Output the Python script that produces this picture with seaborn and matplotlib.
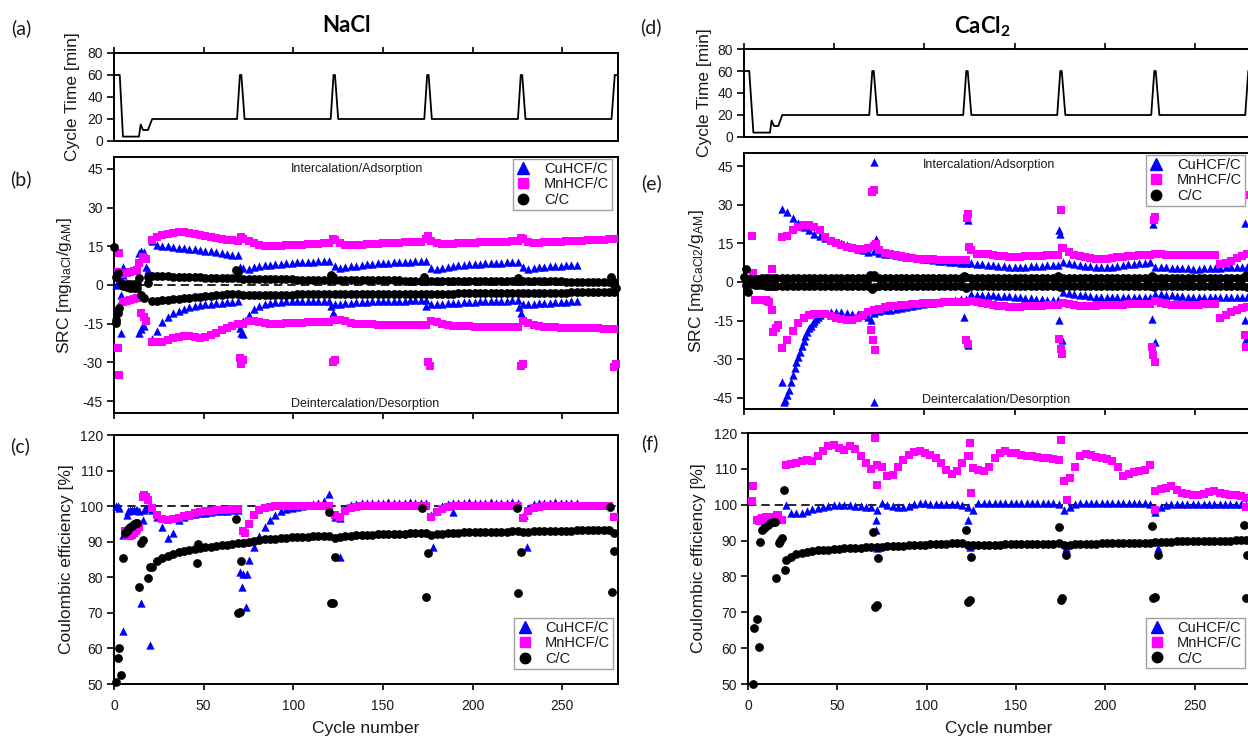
import matplotlib
matplotlib.use("Agg")
import matplotlib.pyplot as plt
import seaborn as sns
import pandas as pd
from matplotlib.lines import Line2D

# ------------------------------------------------------------------ data
xticks = [0, 50, 100, 150, 200, 250]
band_cycles = list(range(21, 280, 3))   # sampled cycles for the dense bands

# cycle time profiles
nacl_ct_c = [0, 3.2, 5, 13.9, 14.9, 16.2, 18.9, 21.3, 68.6, 70.2, 71.0, 72.8,
             120.8, 122.4, 123.2, 125.0, 173.0, 174.6, 175.4, 177.2,
             225.2, 226.8, 227.6, 229.4, 277.4, 279.2, 281]
nacl_ct_v = [60, 60, 4, 4, 15, 10, 10, 20, 20, 60, 60, 20, 20, 60, 60, 20,
             20, 60, 60, 20, 20, 60, 60, 20, 20, 60, 60]
cacl_ct_c = [0, 2.9, 5.2, 14.4, 15.3, 16.6, 19.0, 21.2, 69.4, 71.1, 71.9, 73.9,
             121.5, 123.2, 124.0, 126.0, 173.6, 175.3, 176.1, 178.1,
             225.7, 227.4, 228.2, 230.2, 277.8, 279.5, 281]
cacl_ct_v = [60, 60, 4, 4, 15, 10, 10, 20, 20, 60, 60, 20, 20, 60, 60, 20,
             20, 60, 60, 20, 20, 60, 60, 20, 20, 60, 60]

# ---- NaCl SRC (panel b)
nacl_mn_pos = [17.5, 18.5, 19.3, 19.8, 20.2, 20.5, 20.6, 20.3, 19.8, 19.4,
               19.0, 18.6, 18.2, 17.9, 17.6, 17.3, 17.0, 17.8, 17.0, 16.2,
               15.5, 15.1, 15.2, 15.2, 15.3, 15.4, 15.5, 15.6, 15.7, 15.8,
               15.9, 16.0, 16.1, 16.2, 17.5, 16.2, 15.6, 15.5, 15.6, 15.7,
               15.8, 15.9, 16.0, 16.1, 16.2, 16.3, 16.4, 16.5, 16.6, 16.7,
               16.8, 18.0, 17.2, 16.2, 15.9, 15.9, 16.0, 16.1, 16.2, 16.3,
               16.4, 16.5, 16.5, 16.6, 16.6, 16.7, 16.8, 16.9, 17.0, 17.8,
               16.6, 16.3, 16.4, 16.5, 16.6, 16.7, 16.8, 16.9, 17.0, 17.1,
               17.2, 17.3, 17.4, 17.5, 17.6, 17.8, 18.0]
nacl_mn_neg = [-22.0, -22.2, -22.0, -21.3, -20.5, -20.0, -19.6, -19.6, -20.0, -20.5,
               -20.3, -19.5, -18.5, -17.5, -16.5, -15.8, -15.3, -15.0, -13.8, -14.0,
               -14.5, -14.8, -15.0, -15.0, -15.0, -14.9, -14.8, -14.7, -14.6, -14.5,
               -14.4, -14.3, -14.2, -14.2, -13.6, -13.5, -14.0, -14.6, -15.0, -15.2,
               -15.3, -15.3, -15.4, -15.4, -15.5, -15.5, -15.6, -15.6, -15.6, -15.6,
               -15.6, -15.5, -13.8, -14.5, -15.2, -15.6, -15.8, -16.0, -16.0, -16.0,
               -16.1, -16.1, -16.1, -16.2, -16.2, -16.2, -16.2, -16.2, -16.2, -14.0,
               -14.8, -15.6, -16.0, -16.2, -16.3, -16.4, -16.5, -16.5, -16.6, -16.6,
               -16.7, -16.7, -16.8, -16.8, -16.9, -17.0, -17.0]
nacl_cu_pos = [17.0, 15.5, 15.2, 15.0, 14.8, 14.5, 14.3, 14.0, 13.8, 13.6,
               13.3, 13.0, 12.7, 12.4, 12.1, 11.8, 11.5, 6.5, 6.2, 6.8,
               7.3, 7.6, 7.9, 8.1, 8.3, 8.5, 8.7, 8.8, 8.9, 9.0,
               9.1, 9.2, 9.3, 9.4, 7.2, 6.6, 6.9, 7.2, 7.5, 7.8,
               8.0, 8.2, 8.4, 8.6, 8.7, 8.8, 8.9, 9.0, 9.1, 9.2,
               9.3, 9.4, 6.5, 6.4, 6.7, 7.0, 7.3, 7.6, 7.8, 8.0,
               8.2, 8.3, 8.4, 8.5, 8.6, 8.7, 8.8, 8.9, 9.0, 6.8,
               6.4, 6.6, 6.8, 7.0, 7.2, 7.4, 7.5, 7.6, 7.8, 7.9]
nacl_cu_neg = [-21.0, -18.0, -14.5, -12.5, -11.0, -10.0, -9.2, -8.6, -8.2, -7.8,
               -7.5, -7.2, -7.0, -6.8, -6.6, -6.5, -6.4, -14.0, -11.5, -9.5,
               -8.0, -7.2, -6.8, -6.6, -6.5, -6.4, -6.4, -6.3, -6.3, -6.3,
               -6.3, -6.2, -6.2, -6.2, -7.5, -7.2, -7.0, -6.8, -6.7, -6.6,
               -6.5, -6.4, -6.3, -6.3, -6.2, -6.2, -6.1, -6.1, -6.0, -6.0,
               -6.0, -6.0, -7.5, -7.4, -7.2, -7.0, -6.9, -6.8, -6.7, -6.6,
               -6.5, -6.4, -6.3, -6.2, -6.2, -6.1, -6.1, -6.0, -6.0, -7.5,
               -7.4, -7.2, -7.0, -6.9, -6.8, -6.7, -6.6, -6.5, -6.4, -6.3]
nacl_cc_pos = [3.4, 3.4, 3.3, 3.3, 3.2, 3.2, 3.1, 3.1, 3.0, 3.0,
               2.9, 2.9, 2.8, 2.8, 2.7, 2.7, 2.6, 2.5, 2.5, 2.4,
               2.4, 2.3, 2.3, 2.3, 2.2, 2.2, 2.2, 2.1, 2.1, 2.1,
               2.0, 2.0, 2.0, 2.0, 2.0, 2.0, 1.9, 1.9, 1.9, 1.9,
               1.9, 1.8, 1.8, 1.8, 1.8, 1.8, 1.8, 1.7, 1.7, 1.7,
               1.7, 1.7, 1.7, 1.7, 1.6, 1.6, 1.6, 1.6, 1.6, 1.6,
               1.6, 1.5, 1.5, 1.5, 1.5, 1.5, 1.5, 1.5, 1.5, 1.4,
               1.4, 1.4, 1.4, 1.4, 1.4, 1.4, 1.4, 1.3, 1.3, 1.3,
               1.3, 1.3, 1.3, 1.3, 1.3, 1.3, 1.3]
nacl_cc_neg = [-6.3, -6.1, -5.9, -5.7, -5.5, -5.3, -5.1, -4.9, -4.7, -4.5,
               -4.3, -4.1, -3.9, -3.7, -3.5, -3.4, -3.3, -3.8, -4.0, -4.0,
               -4.0, -3.9, -3.9, -3.8, -3.8, -3.7, -3.7, -3.6, -3.6, -3.6,
               -3.5, -3.5, -3.5, -3.5, -3.6, -3.6, -3.5, -3.5, -3.5, -3.4,
               -3.4, -3.4, -3.4, -3.3, -3.3, -3.3, -3.3, -3.3, -3.3, -3.3,
               -3.3, -3.3, -3.4, -3.4, -3.3, -3.3, -3.3, -3.2, -3.2, -3.2,
               -3.2, -3.2, -3.2, -3.1, -3.1, -3.1, -3.1, -3.1, -3.1, -3.2,
               -3.2, -3.1, -3.1, -3.0, -3.0, -3.0, -3.0, -3.0, -2.9, -2.9,
               -2.9, -2.9, -2.9, -2.8, -2.8, -2.8, -2.8]
nacl_cu_src_extra_c = [1, 2, 4, 4, 5, 5, 14, 15, 16, 17, 18, 19, 14, 15, 16, 17, 18,
                       70, 71, 72, 70, 121, 122, 123, 174, 226, 227]
nacl_cu_src_extra_v = [0.0, -8.3, -3.9, -18.7, 7.1, 4.0, 12.5, 13.0, 12.0, 12.8, 7.0, 6.0,
                       -18.5, -17.0, -15.5, -16.0, -13.0,
                       -16.5, -18.5, -19.0, 7.0, -8.0, -11.0, -12.0, -8.0, -8.5, -11.0]
nacl_mn_src_extra_c = [2, 3, 2, 3, 5, 7, 9, 11, 13, 5, 7, 9, 11, 13, 14, 16, 18, 15, 17, 18,
                       70, 71, 72, 71, 122, 123, 122, 175, 176, 175, 227, 228, 227, 279, 280]
nacl_mn_src_extra_v = [5.2, 12.3, -24.6, -35.0, 4.2, 4.8, 5.2, 5.6, 6.0, -6.5, -6.2, -5.8,
                       -5.5, -5.2, 8.4, 10.9, 10.0, -11.0, -12.5, -13.9,
                       -28.5, -30.5, -29.0, 18.7, -29.7, -29.0, 18.0, -29.7, -31.5, 19.0,
                       -31.5, -30.5, 18.3, -32.0, -30.5]
nacl_cc_src_extra_c = [0, 1, 1, 2, 1, 2, 3, 4, 5, 7, 9, 11, 13, 5, 7, 9, 11, 13, 14, 15, 17, 19, 19,
                       68, 69, 121, 122, 173, 225, 277, 279, 280]
nacl_cc_src_extra_v = [14.9, 3.2, -14.9, 4.5, -13.6, -11.0, -9.0, 0.8, 0.5, 0.3, 0.2, 0.2, 0.3,
                       -0.5, -0.8, -1.0, -1.2, -1.3, 2.6, -3.7, -5.0, 0.6, 3.0,
                       5.8, 5.0, 3.9, 3.0, 3.2, 2.8, 3.0, 0.0, -1.0]

# ---- NaCl Coulombic efficiency (panel c)
nacl_cu_ce = [99.0, 97.0, 94.0, 91.0, 92.5, 96.0, 97.0, 97.5, 97.8, 98.0,
              98.2, 98.4, 98.5, 98.6, 98.7, 98.8, 98.9, 81.0, 85.0, 88.5,
              91.5, 94.0, 96.0, 97.5, 98.5, 99.2, 99.6, 99.8, 100.0, 100.2,
              100.5, 100.8, 101.5, 103.5, 97.0, 96.6, 99.5, 100.3, 100.6, 100.8,
              100.9, 101.0, 100.9, 101.0, 101.1, 101.0, 100.9, 101.0, 101.1, 101.0,
              100.9, 100.8, 97.5, 98.5, 100.0, 100.5, 100.8, 100.9, 101.0, 101.1,
              101.0, 100.9, 101.0, 101.1, 101.0, 100.9, 101.0, 101.1, 100.8, 97.0,
              99.5, 100.5, 100.8, 100.9, 101.0, 101.1, 101.0, 100.9, 101.0, 101.0]
nacl_mn_ce = [99.5, 97.5, 96.5, 96.2, 96.3, 96.8, 97.2, 97.6, 98.0, 98.3,
              98.5, 98.7, 98.8, 98.9, 99.0, 99.1, 99.2, 93.0, 95.0, 97.5,
              98.8, 99.4, 99.7, 99.9, 100.0, 100.0, 100.0, 100.0, 100.0, 100.0,
              100.0, 100.0, 100.0, 100.0, 97.5, 97.0, 98.5, 99.4, 99.8, 100.0,
              100.0, 100.0, 100.0, 100.0, 100.0, 100.0, 100.0, 100.0, 100.0, 100.0,
              100.0, 100.0, 97.0, 98.3, 99.3, 99.8, 100.0, 100.0, 100.0, 100.0,
              100.0, 100.0, 100.0, 100.0, 100.0, 100.0, 100.0, 100.0, 100.0, 96.8,
              98.5, 99.4, 99.8, 100.0, 100.0, 100.0, 100.0, 100.0, 100.0, 100.0,
              100.0, 100.0, 100.0, 100.0, 100.0, 100.0, 97.0]
nacl_cc_ce = [83.0, 84.5, 85.5, 86.0, 86.5, 87.0, 87.4, 87.7, 88.0, 88.2,
              88.4, 88.6, 88.8, 89.0, 89.2, 89.4, 89.6, 89.5, 89.8, 90.2,
              90.5, 90.7, 90.8, 90.9, 91.0, 91.1, 91.2, 91.3, 91.4, 91.4,
              91.5, 91.5, 91.6, 91.6, 91.0, 91.4, 91.6, 91.7, 91.8, 91.9,
              92.0, 92.0, 92.1, 92.1, 92.2, 92.2, 92.3, 92.3, 92.4, 92.4,
              92.4, 92.5, 92.0, 92.2, 92.3, 92.4, 92.5, 92.5, 92.6, 92.6,
              92.6, 92.7, 92.7, 92.7, 92.8, 92.8, 92.8, 92.9, 92.9, 92.6,
              92.8, 92.9, 93.0, 93.0, 93.0, 93.1, 93.1, 93.1, 93.1, 93.2,
              93.2, 93.2, 93.2, 93.2, 93.3, 93.3, 92.4]
nacl_cu_ce_extra_c = [1, 2, 3, 5, 5, 7, 8, 9, 10, 11, 12, 13, 14, 15, 16, 17, 18, 19, 20,
                      70, 71.6, 73.8, 74, 126, 177.6, 189, 230, 228.5]
nacl_cu_ce_extra_v = [100, 100, 99.5, 92, 65, 97.5, 98.5, 99, 99, 99, 99, 99, 98.5, 72.7, 96,
                      99, 99.5, 99.5, 61,
                      81.6, 77.4, 71.7, 81.0, 85.8, 88.6, 98.4, 88.6, 97.4]
nacl_mn_ce_extra_c = [6, 7, 8, 9, 10, 11, 12, 13, 14, 16, 17, 18, 19, 72.9, 73.8]
nacl_mn_ce_extra_v = [93, 92, 91.5, 91.5, 92, 92.5, 93, 93.5, 94, 102.7, 103, 102.5, 101.7,
                      92.4, 89.5]
nacl_cc_ce_extra_c = [1, 2, 3, 4, 5, 6, 7, 8, 9, 10, 11, 12, 13, 14, 15, 16, 19, 20,
                      46, 47, 68, 69, 70, 71, 120, 121, 122, 123, 172, 174, 175,
                      224.5, 225.5, 227, 276.5, 277.5, 279]
nacl_cc_ce_extra_v = [50.6, 57.2, 60, 52.5, 85.3, 92.4, 93, 93.5, 94, 94.5, 95, 95.2, 95.3,
                      77.4, 89.5, 90.4, 79.7, 83,
                      84.1, 89.4, 96.3, 69.9, 70.3, 84.7, 98.4, 72.9, 72.9, 85.8, 99.4,
                      74.5, 86.7, 99.4, 75.7, 87.2, 99.7, 75.8, 87.5]

# ---- CaCl2 SRC (panel e)
cacl_cu_pos = [28.5, 27.0, 25.0, 23.0, 21.5, 20.0, 18.8, 17.8, 17.0, 16.3,
               15.6, 15.0, 14.3, 13.6, 12.9, 12.3, 11.8, 12.0, 11.3, 11.0,
               10.7, 10.4, 10.1, 9.8, 9.5, 9.2, 9.0, 8.8, 8.6, 8.3,
               8.1, 7.9, 7.7, 7.4, 7.2, 7.2, 7.0, 6.8, 6.6, 6.4,
               6.3, 6.1, 6.0, 5.9, 5.9, 6.0, 6.1, 6.2, 6.3, 6.4,
               6.5, 6.6, 7.8, 7.3, 6.9, 6.6, 6.3, 6.1, 5.9, 5.8,
               5.8, 6.0, 6.2, 6.5, 6.8, 7.0, 7.3, 7.5, 7.8, 6.0,
               5.8, 5.7, 5.6, 5.5, 5.4, 5.3, 5.2, 5.2, 5.3, 5.4,
               5.5, 5.6, 5.7, 5.8, 5.8, 5.9, 6.0]
cacl_cu_neg = [-39.0, -44.0, -36.0, -29.0, -23.0, -18.0, -15.0, -12.8, -12.0, -11.8,
               -11.6, -11.8, -12.0, -12.3, -12.6, -12.9, -13.5, -12.0, -11.3, -11.0,
               -10.7, -10.3, -10.0, -9.6, -9.2, -8.9, -8.6, -8.3, -8.0, -7.7,
               -7.4, -7.2, -7.0, -6.7, -6.5, -4.8, -4.9, -5.0, -5.1, -5.2,
               -5.3, -5.5, -5.6, -5.8, -6.0, -6.2, -6.4, -6.6, -6.8, -6.9,
               -7.0, -7.1, -4.0, -4.3, -4.6, -4.9, -5.2, -5.5, -5.8, -5.9,
               -6.0, -6.0, -6.0, -5.9, -5.9, -5.8, -5.8, -5.8, -5.8, -4.5,
               -4.8, -5.0, -5.2, -5.4, -5.6, -5.7, -5.8, -5.8, -5.8, -5.8,
               -5.8, -5.8, -5.8, -5.8, -5.8, -5.8, -5.8]
cacl_mn_pos = [17.5, 18.0, 20.0, 21.3, 22.0, 22.0, 21.3, 20.0, 17.5, 16.0,
               15.0, 14.2, 13.5, 13.0, 12.8, 12.8, 13.3, 13.8, 12.5, 11.2,
               10.7, 10.3, 10.0, 9.7, 9.4, 9.1, 9.0, 8.9, 8.8, 8.7,
               8.6, 8.5, 8.4, 8.4, 8.4, 12.5, 11.0, 11.0, 10.8, 10.5,
               10.2, 9.9, 9.7, 9.7, 9.8, 9.9, 10.0, 10.1, 10.2, 10.3,
               10.4, 10.4, 13.0, 11.5, 10.5, 10.0, 9.6, 9.3, 9.0, 9.0,
               9.1, 9.3, 9.5, 9.7, 9.9, 10.1, 10.3, 10.4, 10.5, 11.0,
               10.8, 10.6, 10.5, 10.4, 10.4, 10.4, 10.4, 10.4, 10.4, 10.4,
               10.4, 6.8, 7.5, 8.3, 9.2, 10.0, 11.0]
cacl_mn_neg = [-25.8, -22.5, -19.0, -16.0, -13.8, -12.8, -12.3, -12.3, -12.6, -13.2,
               -13.8, -14.3, -14.8, -14.6, -13.8, -13.0, -11.5, -11.0, -10.3, -9.7,
               -9.5, -9.2, -9.0, -8.8, -8.6, -8.4, -8.3, -8.2, -8.1, -8.0,
               -7.9, -7.8, -7.8, -7.8, -7.8, -7.2, -7.8, -8.3, -8.7, -9.0,
               -9.3, -9.5, -9.7, -9.7, -9.6, -9.5, -9.4, -9.3, -9.2, -9.1,
               -9.0, -9.0, -8.0, -8.5, -9.0, -9.2, -9.3, -9.3, -9.2, -9.1,
               -9.0, -9.0, -8.9, -8.8, -8.7, -8.6, -8.5, -8.4, -8.4, -7.5,
               -8.2, -8.6, -8.9, -9.0, -9.0, -9.0, -9.0, -8.9, -8.7, -8.5,
               -8.4, -13.8, -12.8, -11.8, -11.0, -10.2, -9.7]
cacl_cc_pos = [1.5, 1.5, 1.5, 1.5, 1.5, 1.5, 1.5, 1.5, 1.5, 1.5,
               1.5, 1.5, 1.5, 1.5, 1.5, 1.5, 1.6, 2.0, 1.5, 1.5,
               1.5, 1.5, 1.5, 1.5, 1.5, 1.5, 1.5, 1.5, 1.5, 1.5,
               1.5, 1.5, 1.5, 1.5, 1.8, 1.5, 1.5, 1.5, 1.5, 1.5,
               1.5, 1.5, 1.5, 1.5, 1.5, 1.5, 1.5, 1.5, 1.5, 1.5,
               1.5, 1.7, 1.5, 1.5, 1.5, 1.5, 1.5, 1.5, 1.5, 1.5,
               1.5, 1.5, 1.5, 1.5, 1.5, 1.5, 1.5, 1.5, 1.7, 1.5,
               1.5, 1.5, 1.5, 1.5, 1.5, 1.5, 1.5, 1.5, 1.5, 1.5,
               1.5, 1.5, 1.5, 1.5, 1.5, 1.6, 2.0]
cacl_cc_neg = [-1.5, -1.5, -1.5, -1.5, -1.5, -1.5, -1.5, -1.5, -1.5, -1.5,
               -1.5, -1.5, -1.5, -1.5, -1.5, -1.5, -1.6, -2.0, -1.5, -1.5,
               -1.5, -1.5, -1.5, -1.5, -1.5, -1.5, -1.5, -1.5, -1.5, -1.5,
               -1.5, -1.5, -1.5, -1.5, -1.8, -1.5, -1.5, -1.5, -1.5, -1.5,
               -1.5, -1.5, -1.5, -1.5, -1.5, -1.5, -1.5, -1.5, -1.5, -1.5,
               -1.5, -1.7, -1.5, -1.5, -1.5, -1.5, -1.5, -1.5, -1.5, -1.5,
               -1.5, -1.5, -1.5, -1.5, -1.5, -1.5, -1.5, -1.5, -1.7, -1.5,
               -1.5, -1.5, -1.5, -1.5, -1.5, -1.5, -1.5, -1.5, -1.5, -1.5,
               -1.5, -1.5, -1.5, -1.5, -1.5, -1.6, -2.0]
cacl_cu_src_extra_c = [22, 23, 25, 26, 28, 29, 31, 32, 34, 35, 37, 38, 40, 41,
                       71.8, 71.8, 70.5, 73.3, 122, 124, 124, 174.6, 175, 174.6, 176.4,
                       226.7, 226, 227.8, 277.7, 277.7, 278.2]
cacl_cu_src_extra_v = [-46.6, -46.0, -42.0, -39.0, -33.5, -31.0, -27.0, -25.0, -21.0, -19.5,
                       -17.0, -16.0, -14.2, -13.5,
                       46.6, -46.6, -14.9, 16.8, -13.6, -24.6, 23.9, 20.0, 18.7, -14.9, -22.6,
                       22.6, -14.2, -23.3, 23.0, -14.9, -22.0]
cacl_mn_src_extra_c = [4.6, 5.1, 6, 7, 8, 9, 10, 11, 12, 13, 14, 15.3, 15.3, 15.3, 16.2, 17.5, 19,
                       70.5, 71.5, 72.4, 71.8, 71.2, 73.3, 123, 124, 124, 123.5, 124.9,
                       174.6, 175.5, 176.4, 175.5, 176.4, 226, 226.9, 227.8, 227.8, 227,
                       277.7, 278.2, 278]
cacl_mn_src_extra_v = [17.8, 3.3, -7.1, -7.0, -7.0, -7.0, -7.0, -7.1, -7.1, -7.3, -7.8,
                       -11.0, 5.2, -2.0, -19.4, -18.0, -16.8,
                       -18.7, -22.6, -26.5, 35.6, 34.8, 14.9, -22.6, -23.9, 26.5, 25.0, 13.6,
                       -22.0, -25.9, -27.8, 27.8, 13.0, -25.2, -28.4, -31.0, 25.2, 24.0,
                       -20.7, -25.2, 33.6]
cacl_cc_src_extra_c = [0, 1, 1, 2, 2, 3, 4, 6, 8, 10, 12, 14, 16, 18, 4, 6, 8, 10, 12, 14, 16, 18,
                       70, 71, 72, 122, 123, 174, 175, 226, 227, 278]
cacl_cc_src_extra_v = [1.9, 5.2, -1.3, -3.9, 1.3, 0.5, 1.0, 1.2, 1.3, 1.4, 1.4, 1.5, 1.5, 1.5,
                       -0.8, -1.0, -1.2, -1.3, -1.4, -1.5, -1.5, -1.5,
                       2.8, -2.6, 2.6, 2.4, -2.2, 2.2, -2.0, 2.2, -2.0, 2.6]

# ---- CaCl2 Coulombic efficiency (panel f)
cacl_mn_ce = [111.2, 111.3, 111.6, 112.3, 112.6, 112.3, 113.5, 115.0, 116.3, 116.7,
              115.8, 115.3, 116.5, 115.5, 113.5, 111.5, 110.0, 111.0, 110.5, 108.0,
              108.3, 110.5, 112.5, 114.0, 114.8, 115.0, 114.5, 113.8, 113.0, 111.5,
              109.8, 108.5, 109.5, 111.5, 113.5, 110.2, 109.8, 109.3, 110.5, 113.0,
              114.4, 114.9, 114.5, 114.4, 113.8, 113.6, 113.5, 113.2, 113.0, 113.0,
              112.8, 112.5, 106.5, 107.5, 110.5, 113.5, 114.2, 113.8, 113.2, 113.0,
              112.8, 112.3, 110.5, 107.9, 108.5, 109.0, 109.3, 109.6, 111.0, 103.7,
              104.3, 104.8, 105.1, 104.0, 103.2, 103.0, 102.8, 102.8, 103.0, 103.5,
              103.7, 103.2, 102.9, 102.8, 102.6, 102.3, 102.0]
cacl_cu_ce = [100.0, 97.7, 97.7, 97.8, 98.2, 98.7, 99.2, 99.5, 99.7, 99.9,
              100.0, 100.0, 99.8, 99.7, 99.6, 99.5, 99.3, 98.6, 100.4, 100.0,
              99.6, 99.4, 99.3, 99.6, 100.1, 100.4, 100.4, 100.3, 100.3, 100.3,
              100.3, 100.3, 100.3, 100.0, 99.3, 98.6, 100.4, 100.5, 100.5, 100.5,
              100.5, 100.5, 100.5, 100.5, 100.5, 100.5, 100.5, 100.5, 100.5, 100.5,
              100.5, 100.3, 98.5, 99.5, 100.2, 100.4, 100.4, 100.4, 100.4, 100.4,
              100.4, 100.4, 100.4, 100.4, 100.4, 100.4, 100.4, 100.4, 100.2, 98.1,
              99.3, 100.0, 100.3, 100.3, 100.3, 100.3, 100.3, 100.3, 100.3, 100.3,
              100.3, 100.3, 100.3, 100.3, 100.3, 100.3, 100.0]
cacl_cc_ce = [84.6, 85.5, 86.2, 86.6, 86.9, 87.1, 87.3, 87.4, 87.5, 87.6,
              87.7, 87.8, 87.9, 88.0, 88.0, 88.1, 88.2, 88.2, 88.3, 88.4,
              88.5, 88.5, 88.6, 88.7, 88.8, 88.8, 88.9, 89.0, 89.0, 89.1,
              89.1, 89.2, 89.2, 89.3, 88.8, 88.8, 88.8, 88.9, 88.9, 88.9,
              88.9, 89.0, 89.0, 89.0, 89.0, 89.0, 89.1, 89.1, 89.1, 89.1,
              89.1, 89.2, 88.8, 88.9, 89.0, 89.0, 89.1, 89.1, 89.1, 89.2,
              89.2, 89.2, 89.2, 89.3, 89.3, 89.3, 89.3, 89.3, 89.4, 89.7,
              89.6, 89.7, 89.7, 89.8, 89.8, 89.8, 89.9, 89.9, 89.9, 89.9,
              90.0, 90.0, 90.0, 90.0, 90.1, 90.1, 90.2]
cacl_cu_ce_extra_c = [71.6, 71.6, 72.3, 123, 124, 177.8, 229.6]
cacl_cu_ce_extra_v = [95.8, 93.0, 87.9, 95.8, 88.3, 87.9, 87.9]
cacl_mn_ce_extra_c = [2.2, 2.8, 5, 6, 7, 8, 10, 12, 14, 16, 17, 19,
                      71, 72.3, 124, 123.5, 125, 175, 178.7, 227.8, 279]
cacl_mn_ce_extra_v = [100.9, 105.3, 95.8, 95.5, 96.0, 96.3, 96.5, 96.6, 96.7, 97.0, 97.2, 95.8,
                      118.6, 105.6, 117.2, 113.5, 103.2, 118.1, 101.4, 98.6, 99.5]
cacl_cc_ce_extra_c = [2.6, 3.2, 5, 5.9, 6.9, 7.8, 8.7, 9.7, 11, 12.5, 14, 15.2, 15.6, 17.1, 18,
                      19, 20.3, 20.8,
                      70, 71, 72, 72.9, 122, 123, 124, 125, 174, 175, 176, 177.8,
                      226, 226.9, 227.8, 229.6, 277.8, 278.7, 279.2]
cacl_cc_ce_extra_v = [50, 65.5, 68, 60.4, 89.7, 93, 93.5, 93.9, 94.4, 94.9, 95.1, 95.3, 79.5,
                      89.3, 90, 90.7, 104, 81.8,
                      92.3, 71.6, 72, 85.1, 93, 73, 73.4, 85.5, 93.9, 73.4, 73.9, 86,
                      94.1, 73.9, 74.4, 86, 94.4, 73.9, 86]

legend_labels = ["CuHCF/C", "MnHCF/C", "C/C"]

# ------------------------------------------------------------------ style
sns.set_theme(style="white")
plt.rcParams["font.family"] = ["Liberation Sans", "DejaVu Sans"]
plt.rcParams["mathtext.fontset"] = "custom"
plt.rcParams["mathtext.rm"] = "Liberation Sans"
plt.rcParams["mathtext.it"] = "Liberation Sans:italic"
plt.rcParams["mathtext.bf"] = "Lato:bold"
plt.rcParams["axes.unicode_minus"] = False

COL = {"cu": "#0000FF", "mn": "#FF00FF", "cc": "#000000"}
MARK = {"cu": "^", "mn": "s", "cc": "o"}
SIZE = {"cu": 36, "mn": 26, "cc": 40}
ZORD = {"cu": 3, "mn": 3.5, "cc": 4}
TXT = "#1a1a1a"

W, H = 1248, 738
fig = plt.figure(figsize=(W / 100, H / 100), dpi=100)


def add_ax(x0, x1, y0, y1):
    return fig.add_axes([x0 / W, 1 - y1 / H, (x1 - x0) / W, (y1 - y0) / H])


def draw_series(ax, kind, pairs):
    cyc, val = [], []
    for c, v in pairs:
        n = min(len(c), len(v))
        cyc += list(c[:n])
        val += list(v[:n])
    df = pd.DataFrame({"cycle": cyc, "value": val})
    sns.scatterplot(data=df, x="cycle", y="value", ax=ax, marker=MARK[kind],
                    color=COL[kind], s=SIZE[kind], linewidth=0, legend=False,
                    clip_on=False, zorder=ZORD[kind])


def style(ax, ylim, yticks, xmode):
    ax.set_xlim(0, 281)
    ax.set_ylim(*ylim)
    ax.set_yticks(yticks)
    ax.set_xticks(xticks)
    ax.set_xlabel("")
    ax.set_ylabel("")
    for sp in ax.spines.values():
        sp.set_visible(True)
        sp.set_linewidth(1.4)
        sp.set_color("black")
    ax.tick_params(axis="y", left=True, right=False, direction="out", length=5,
                   width=1.2, pad=3, labelsize=10, labelcolor=TXT, color="black")
    if xmode == "top":
        ax.tick_params(axis="x", top=True, bottom=False, labeltop=False,
                       labelbottom=False, direction="out", length=4.5, width=1.2,
                       color="black")
    elif xmode == "bottom":
        ax.tick_params(axis="x", top=False, bottom=True, labelbottom=False,
                       direction="out", length=4.5, width=1.2, color="black")
    else:
        ax.tick_params(axis="x", top=False, bottom=True, labelbottom=True,
                       direction="out", length=4.5, width=1.2, pad=6,
                       labelsize=10, labelcolor=TXT, color="black")


def legend(ax, loc, anchor):
    handles = [
        Line2D([], [], marker="^", ls="None", color=COL["cu"], markersize=8),
        Line2D([], [], marker="s", ls="None", color=COL["mn"], markersize=6.5),
        Line2D([], [], marker="o", ls="None", color=COL["cc"], markersize=7.5),
    ]
    lg = ax.legend(handles, legend_labels, loc=loc, bbox_to_anchor=anchor,
                   frameon=True, fancybox=False, edgecolor="#a0a0a0",
                   framealpha=1, fontsize=10.5, borderpad=0.2, labelspacing=0.1,
                   handlelength=1.0, handletextpad=0.9, borderaxespad=0)
    lg.get_frame().set_linewidth(1.0)
    lg.set_zorder(10)
    for t in lg.get_texts():
        t.set_color(TXT)


# ------------------------------------------------------------------ panels
columns = [
    dict(x0=114, x1=618, x0f=114, x1f=618, ya=(53, 141), yb=(157, 413), yc=(435, 684),
         ct=(nacl_ct_c, nacl_ct_v), blim=(-49.65, 49.65),
         cu=(nacl_cu_pos, nacl_cu_neg, nacl_cu_src_extra_c, nacl_cu_src_extra_v),
         mn=(nacl_mn_pos, nacl_mn_neg, nacl_mn_src_extra_c, nacl_mn_src_extra_v),
         cc=(nacl_cc_pos, nacl_cc_neg, nacl_cc_src_extra_c, nacl_cc_src_extra_v),
         cuce=(nacl_cu_ce, nacl_cu_ce_extra_c, nacl_cu_ce_extra_v),
         mnce=(nacl_mn_ce, nacl_mn_ce_extra_c, nacl_mn_ce_extra_v),
         ccce=(nacl_cc_ce, nacl_cc_ce_extra_c, nacl_cc_ce_extra_v)),
    dict(x0=744, x1=1251, x0f=748, x1f=1250, ya=(49, 137), yb=(153, 409), yc=(433, 684),
         ct=(cacl_ct_c, cacl_ct_v), blim=(-49.3, 50.05),
         cu=(cacl_cu_pos, cacl_cu_neg, cacl_cu_src_extra_c, cacl_cu_src_extra_v),
         mn=(cacl_mn_pos, cacl_mn_neg, cacl_mn_src_extra_c, cacl_mn_src_extra_v),
         cc=(cacl_cc_pos, cacl_cc_neg, cacl_cc_src_extra_c, cacl_cc_src_extra_v),
         cuce=(cacl_cu_ce, cacl_cu_ce_extra_c, cacl_cu_ce_extra_v),
         mnce=(cacl_mn_ce, cacl_mn_ce_extra_c, cacl_mn_ce_extra_v),
         ccce=(cacl_cc_ce, cacl_cc_ce_extra_c, cacl_cc_ce_extra_v)),
]

for col in columns:
    # cycle time panel
    ax_a = add_ax(col["x0"], col["x1"], *col["ya"])
    ax_a.set_facecolor("white")
    sns.lineplot(x=col["ct"][0], y=col["ct"][1], ax=ax_a, color="black",
                 linewidth=1.3, sort=False, estimator=None)
    style(ax_a, (0, 80), [0, 20, 40, 60, 80], "top")

    # SRC panel
    ax_b = add_ax(col["x0"], col["x1"], *col["yb"])
    ax_b.set_facecolor("white")
    ax_b.axhline(0, color="black", ls=(0, (5, 3)), lw=1.2, zorder=1)
    for kind in ("cu", "mn", "cc"):
        pos, neg, ec, ev = col[kind]
        draw_series(ax_b, kind, [(band_cycles[:len(pos)], pos),
                                 (band_cycles[:len(neg)], neg), (ec, ev)])
    style(ax_b, col["blim"], [-45, -30, -15, 0, 15, 30, 45], "bottom")
    ax_b.text(0.483, 0.953, "Intercalation/Adsorption", transform=ax_b.transAxes,
              ha="center", va="center", fontsize=9, color=TXT)
    ax_b.text(0.498, 0.037, "Deintercalation/Desorption", transform=ax_b.transAxes,
              ha="center", va="center", fontsize=9, color=TXT)
    legend(ax_b, "upper right", (0.988, 0.992))

    # Coulombic efficiency panel
    ax_c = add_ax(col["x0f"], col["x1f"], *col["yc"])
    ax_c.set_facecolor("white")
    ax_c.axhline(100, color="black", ls=(0, (5, 3)), lw=1.2, zorder=1)
    for kind, key in (("cu", "cuce"), ("mn", "mnce"), ("cc", "ccce")):
        band, ec, ev = col[key]
        draw_series(ax_c, kind, [(band_cycles[:len(band)], band), (ec, ev)])
    style(ax_c, (50, 120), [50, 60, 70, 80, 90, 100, 110, 120], "labels")
    legend(ax_c, "lower right", (0.99, 0.062))

# ------------------------------------------------------------------ text
def ftext(x, y, s, **kw):
    fig.text(x / W, 1 - y / H, s, **kw)

lab = dict(rotation=90, ha="center", va="center", fontsize=12.5, color=TXT)
ftext(72, 97, "Cycle Time [min]", **lab)
ftext(704, 93, "Cycle Time [min]", **lab)
ftext(65, 285, r"SRC [mg$_{\mathrm{NaCl}}$/g$_{\mathrm{AM}}$]", **lab)
ftext(697, 281, r"SRC [mg$_{\mathrm{CaCl2}}$/g$_{\mathrm{AM}}$]", **lab)
ftext(66, 559, "Coulombic efficiency [%]", **lab)
ftext(699, 558, "Coulombic efficiency [%]", **lab)
ftext(366, 728, "Cycle number", ha="center", va="center", fontsize=12.5, color=TXT)
ftext(999, 728, "Cycle number", ha="center", va="center", fontsize=12.5, color=TXT)

pl = dict(ha="center", va="center", fontsize=14, family=["Lato", "DejaVu Sans"], color=TXT)
ftext(21, 28, "(a)", **pl)
ftext(21, 179, "(b)", **pl)
ftext(20, 446, "(c)", **pl)
ftext(651, 27, "(d)", **pl)
ftext(651, 183, "(e)", **pl)
ftext(650, 443, "(f)", **pl)

ftext(347, 25, "NaCl", ha="center", va="center", fontsize=16, fontweight="bold",
      family=["Lato", "DejaVu Sans"], color="black")
ftext(982, 27, r"$\mathbf{CaCl}_{\mathbf{2}}$", ha="center", va="center", fontsize=16,
      color="black")

fig.savefig("out.png", dpi=100, facecolor="white")
